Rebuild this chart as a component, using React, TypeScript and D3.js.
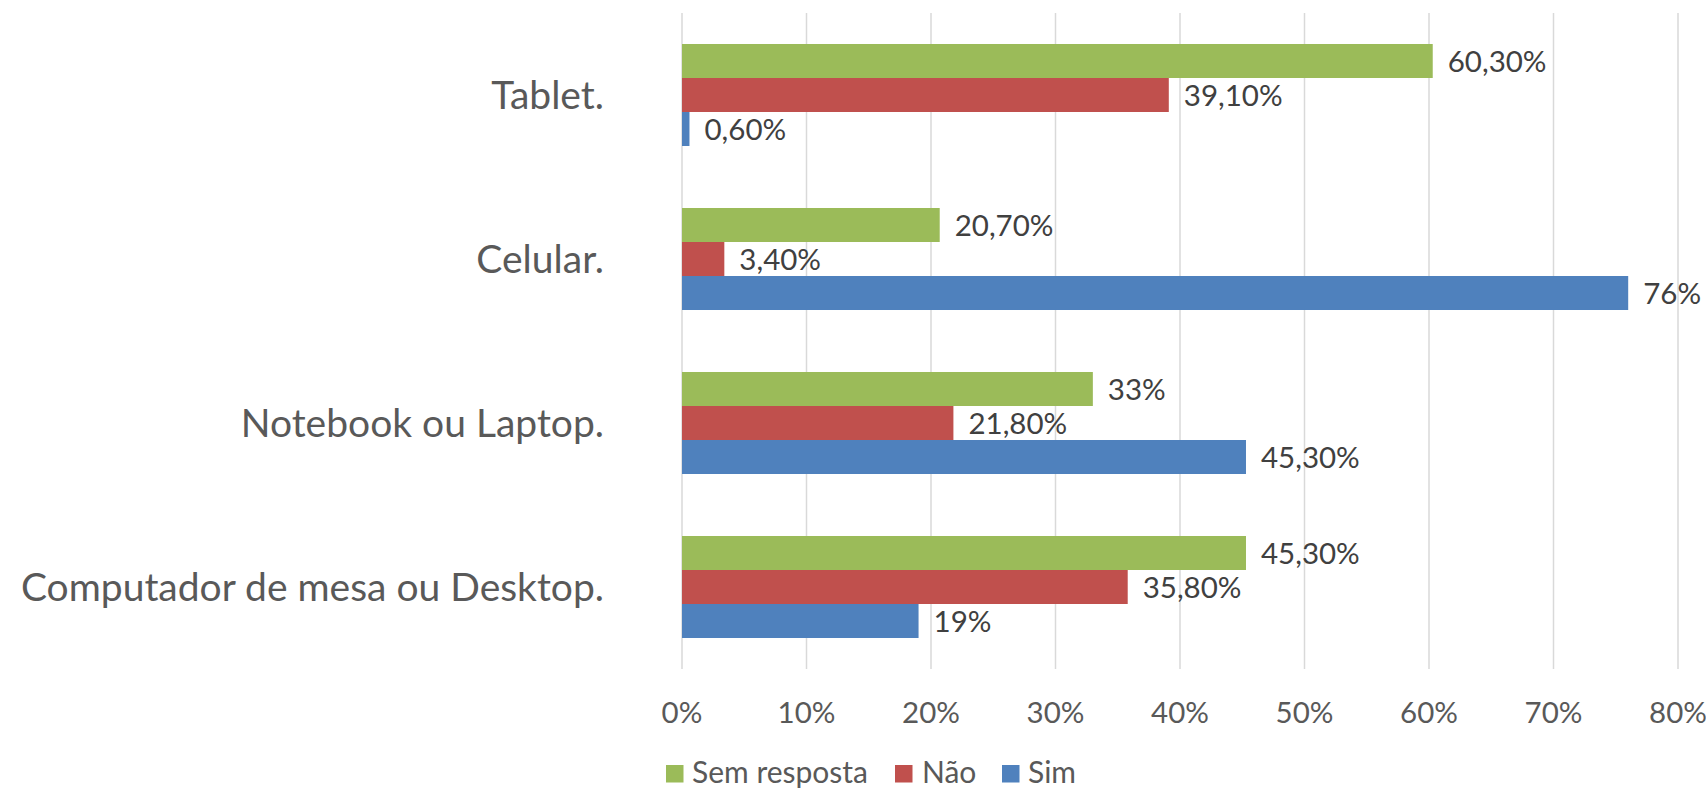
import React from "react";
import * as d3 from "d3";

const categories = ["Tablet.", "Celular.", "Notebook ou Laptop.", "Computador de mesa ou Desktop."];
const seriesNames = ["Sem resposta", "Não", "Sim"];
const semResposta = [60.3, 20.7, 33, 45.3];
const nao = [39.1, 3.4, 21.8, 35.8];
const sim = [0.6, 76, 45.3, 19];
const seriesColors = ["#9BBB59", "#C0504D", "#4F81BD"];
const xTicks = [0, 10, 20, 30, 40, 50, 60, 70, 80];

const W = 1706;
const H = 788;
const FONT = "Lato, 'Open Sans', sans-serif";

function fmt(v: number): string {
  return Number.isInteger(v) ? `${v}%` : `${v.toFixed(2).replace(".", ",")}%`;
}

export default function App() {
  const seriesValues = [semResposta, nao, sim];
  const x = d3.scaleLinear().domain([0, 80]).range([682, 1678]);
  const y = d3.scaleBand<string>().domain(categories).range([13, 669]).paddingInner(0.378).paddingOuter(0.189);
  const ys = d3.scaleBand<string>().domain(seriesNames).range([0, y.bandwidth()]).padding(0);

  const legendItems = [
    { name: seriesNames[0], sx: 666, tx: 692 },
    { name: seriesNames[1], sx: 895, tx: 922 },
    { name: seriesNames[2], sx: 1002, tx: 1028 },
  ];

  return (
    <svg width={W} height={H} style={{ position: "absolute", left: 0, top: 0, background: "#fff" }} fontFamily={FONT}>
      <rect x={0} y={0} width={W} height={H} fill="#fff" />
      {xTicks.map((t) => (
        <line key={t} x1={x(t)} x2={x(t)} y1={13} y2={669} stroke="#D9D9D9" strokeWidth={1.5} />
      ))}
      {categories.map((c, ci) => (
        <g key={c}>
          {seriesNames.map((s, si) => {
            const v = seriesValues[si][ci];
            const y0 = (y(c) as number) + (ys(s) as number);
            return (
              <g key={s}>
                <rect x={x(0)} y={y0} width={x(v) - x(0)} height={ys.bandwidth()} fill={seriesColors[si]} />
                <text x={x(v) + 15} y={y0 + ys.bandwidth() / 2} dy="0.36em" fontSize={29.5} fill="#404040">
                  {fmt(v)}
                </text>
              </g>
            );
          })}
          <text x={604} y={(y(c) as number) + y.bandwidth() / 2} dy="0.36em" textAnchor="end" fontSize={39} fill="#595959">
            {c}
          </text>
        </g>
      ))}
      {xTicks.map((t) => (
        <text key={t} x={x(t)} y={712} dy="0.36em" textAnchor="middle" fontSize={29.5} fill="#595959">
          {`${t}%`}
        </text>
      ))}
      {legendItems.map((l, i) => (
        <g key={l.name}>
          <rect x={l.sx} y={765} width={17.5} height={17.5} fill={seriesColors[i]} />
          <text x={l.tx} y={772} dy="0.36em" fontSize={30} fill="#595959">
            {l.name}
          </text>
        </g>
      ))}
    </svg>
  );
}
